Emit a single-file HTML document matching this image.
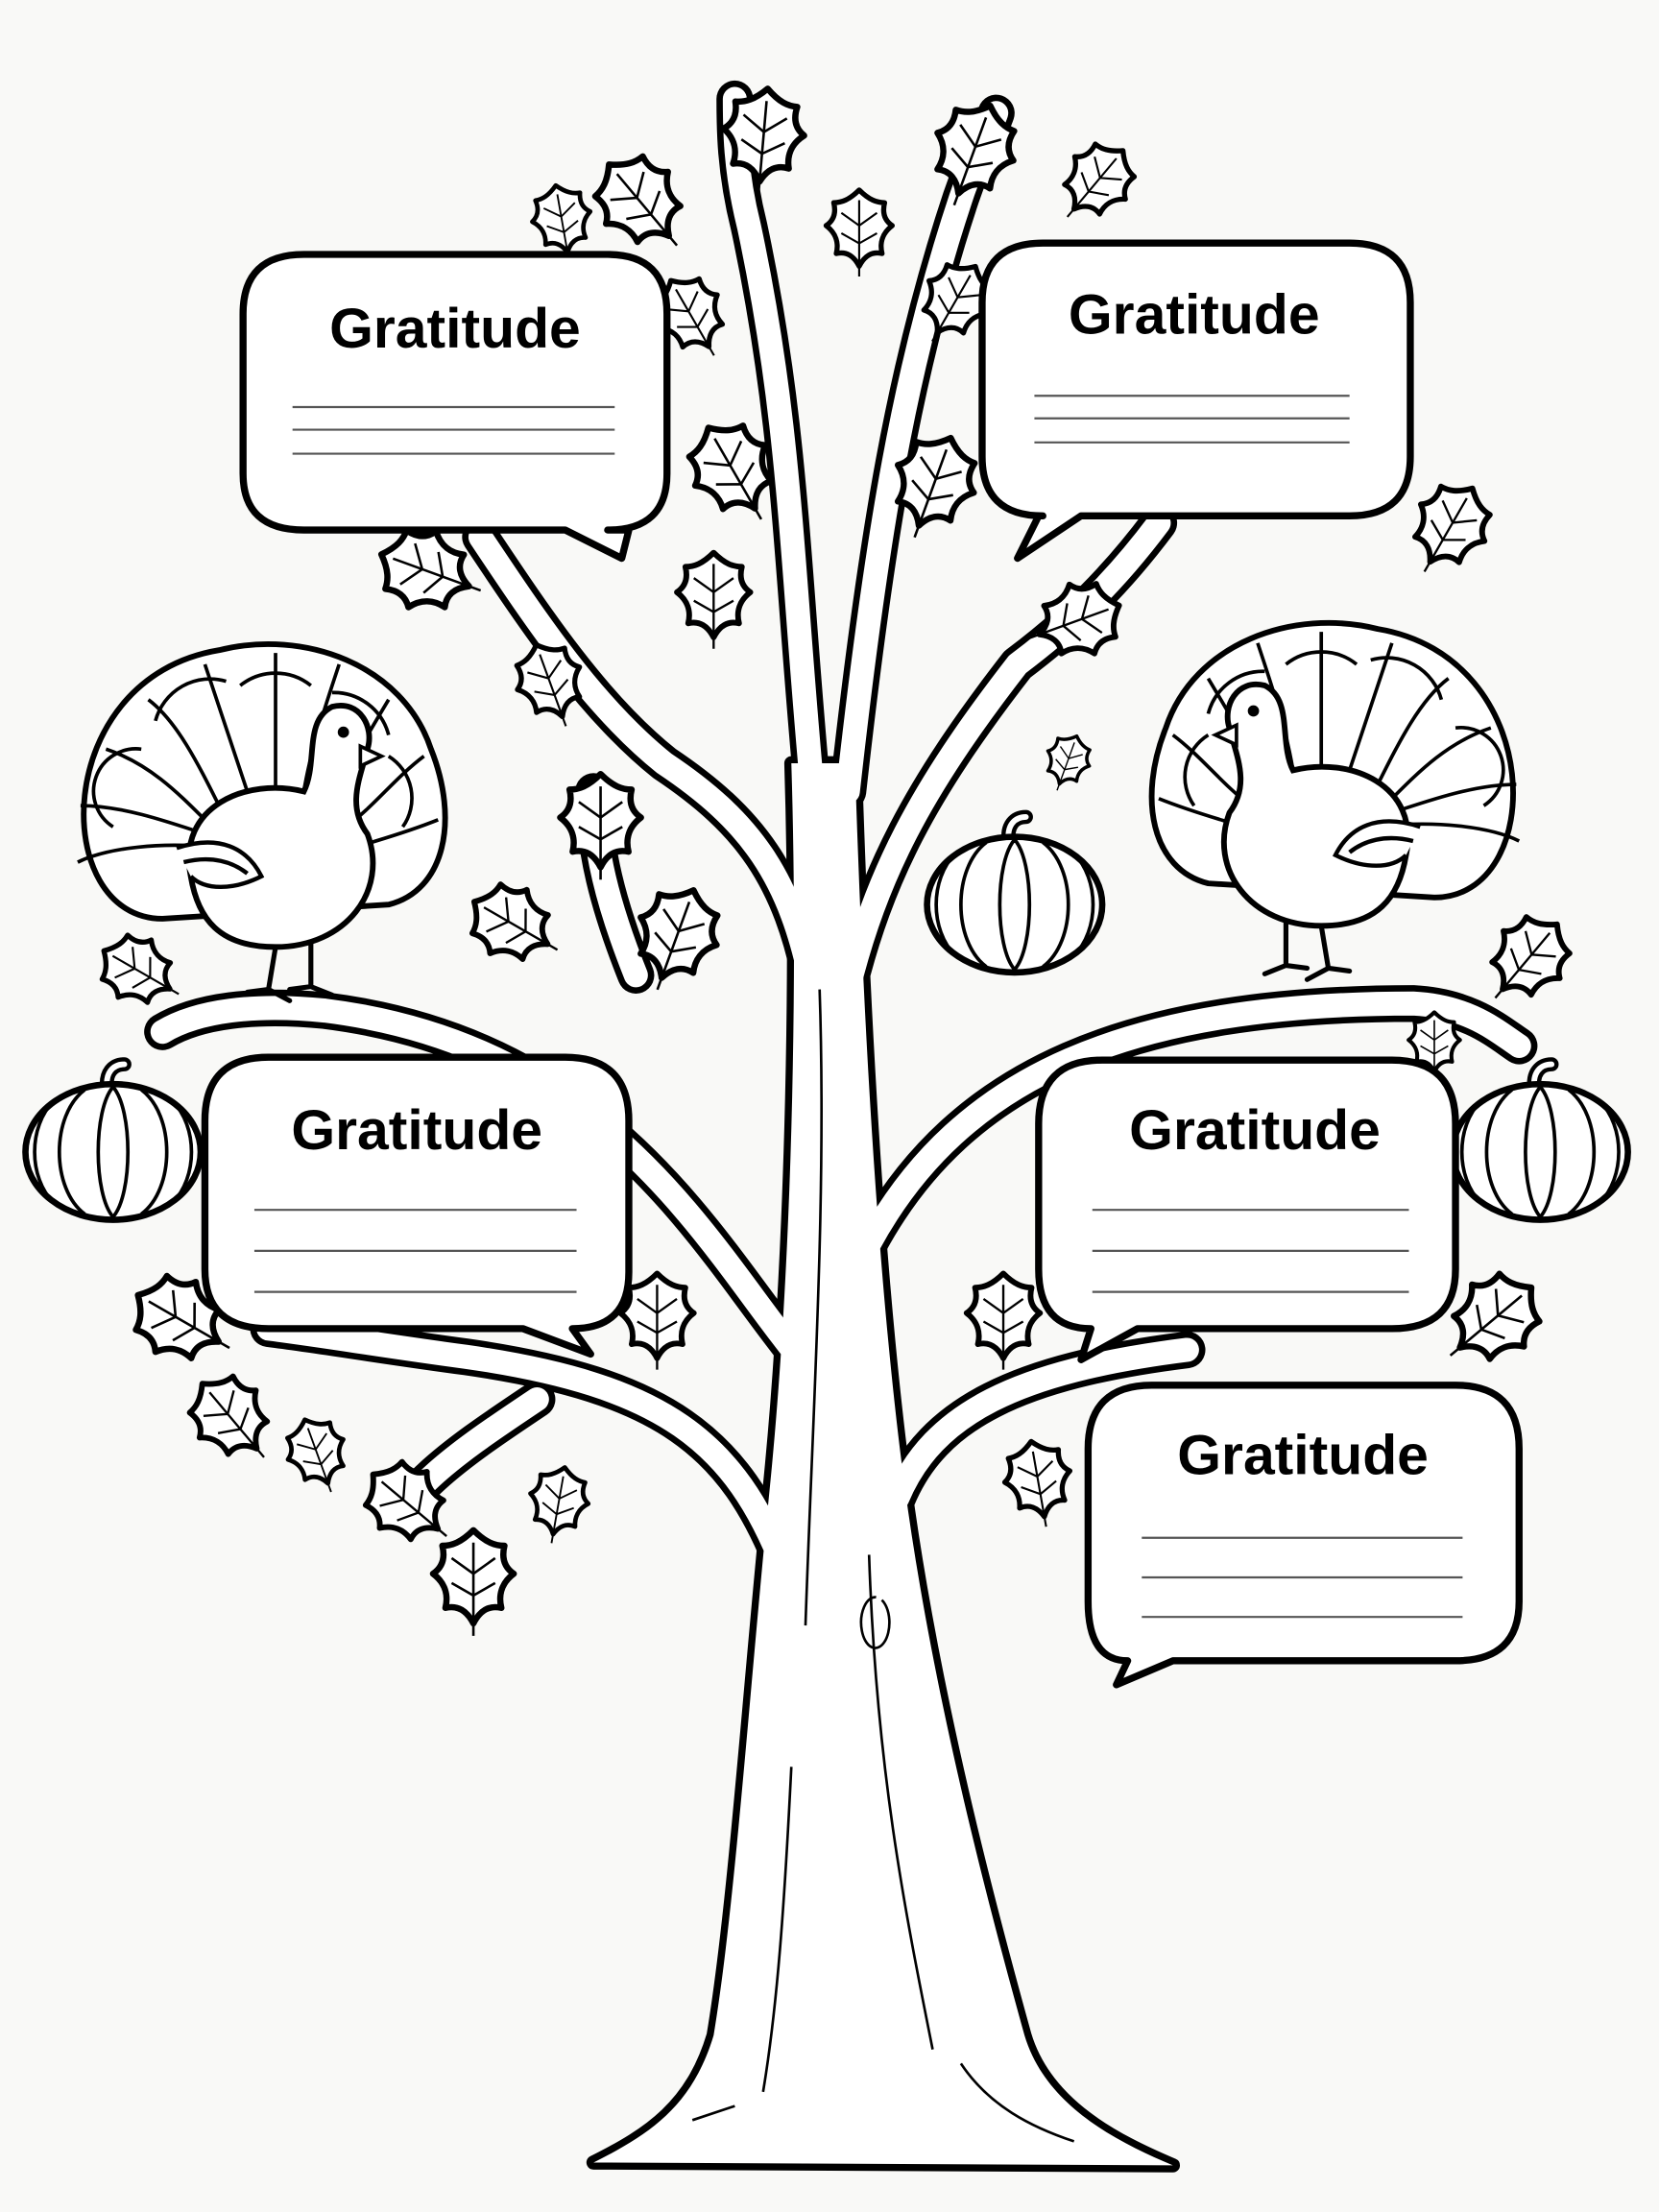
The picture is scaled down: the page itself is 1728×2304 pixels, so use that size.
<!DOCTYPE html>
<html><head><meta charset="utf-8"><style>
html,body{margin:0;padding:0;background:#f9f9f7;}
svg{display:block}
text{font-family:"Liberation Sans","DejaVu Sans",sans-serif;font-weight:bold;}
</style></head><body>
<svg width="1728" height="2304" viewBox="0 0 1174 1565" preserveAspectRatio="none" xmlns="http://www.w3.org/2000/svg">
<rect width="1174" height="1565" fill="#f9f9f7"/>
<defs>
<g id="leaf">
<path d="M0,-34 C8,-26 14,-24 20,-24 C18,-16 20,-10 26,-6 C18,0 16,8 18,16 C10,14 4,18 0,26 C-4,18 -10,14 -18,16 C-16,8 -18,0 -26,-6 C-20,-10 -18,-16 -20,-24 C-14,-24 -8,-26 0,-34 Z" fill="#fff" stroke="#000" stroke-width="4" stroke-linejoin="round"/>
<path d="M0,-26 L0,34 M0,-6 L-14,-16 M0,-6 L14,-16 M0,8 L-14,0 M0,8 L14,0" stroke="#000" stroke-width="1.6" fill="none"/>
</g>
<g id="pump">
<path d="M-4,-44 C-6,-56 0,-62 8,-62" stroke="#000" stroke-width="10" fill="none" stroke-linecap="round"/>
<path d="M-4,-44 C-6,-56 0,-62 8,-62" stroke="#fff" stroke-width="4" fill="none" stroke-linecap="round"/>
<ellipse cx="0" cy="0" rx="62" ry="48" fill="#fff" stroke="#000" stroke-width="4.5"/>
<path d="M0,-46 C-14,-30 -14,30 0,46 C14,30 14,-30 0,-46 M-20,-44 C-44,-26 -44,26 -20,44 M20,-44 C44,-26 44,26 20,44 M-42,-36 C-60,-18 -60,18 -42,36 M42,-36 C60,-18 60,18 42,36" stroke="#000" stroke-width="2.5" fill="none"/>
</g>
<g id="turkey">
<g fill="#fff" stroke="#000" stroke-width="4">
<path d="M-80,60 C-160,60 -160,-110 -40,-130 C20,-145 90,-120 110,-60 C130,-10 120,40 80,50 Z"/>
</g>
<g stroke="#000" stroke-width="2.5" fill="none">
<path d="M-140,20 C-120,10 -80,5 -40,10 M-138,-20 C-110,-20 -80,-10 -50,0 M-120,-60 C-90,-50 -70,-30 -50,-10 M-90,-95 C-70,-80 -55,-50 -40,-20 M-50,-120 C-40,-90 -30,-60 -20,-30 M0,-128 C0,-95 0,-60 0,-30 M45,-120 C35,-90 25,-60 20,-30 M80,-95 C65,-70 50,-45 40,-20 M105,-55 C85,-40 70,-20 50,-5 M115,-10 C90,0 70,5 55,10"/>
<path d="M-115,-5 a30,30 0 0 1 20,-55 M-85,-80 a40,40 0 0 1 50,-28 M-25,-105 a40,40 0 0 1 50,0 M40,-100 a40,40 0 0 1 40,30 M80,-55 a35,35 0 0 1 10,50"/>
</g>
<path d="M-60,30 C-70,-20 -20,-40 20,-30 C30,-50 20,-80 40,-90 C60,-95 70,-75 65,-60 C60,-40 50,-20 65,0 C80,40 50,80 0,80 C-40,80 -55,60 -60,30 Z" fill="#fff" stroke="#000" stroke-width="4"/>
<path d="M-70,10 C-40,0 -20,10 -10,30 C-30,40 -50,40 -60,30 M-65,20 C-45,15 -30,20 -20,28" stroke="#000" stroke-width="3" fill="#fff"/>
<circle cx="48" cy="-72" r="4" fill="#000"/>
<path d="M60,-62 L75,-55 L60,-48 Z" fill="#fff" stroke="#000" stroke-width="2.5"/>
<path d="M0,80 L-5,110 M25,78 L25,108 M-20,112 L-5,110 L10,118 M10,110 L25,108 L40,114" stroke="#000" stroke-width="3.5" fill="none" stroke-linecap="round"/>
</g>
<g id="br">
<path d="M575,700 C560,620 530,580 470,540 C420,500 380,440 340,380"/>
<path d="M600,700 C620,620 650,560 720,470 C760,440 790,410 820,370"/>
<path d="M575,560 C560,400 560,300 530,160 C520,120 520,90 520,70"/>
<path d="M600,560 C620,380 640,260 680,140 C690,110 700,95 705,80"/>
<path d="M565,960 C500,880 430,740 230,715 C180,710 140,715 115,730"/>
<path d="M615,880 C680,760 800,710 1000,710 C1040,712 1060,730 1075,740"/>
<path d="M555,1110 C520,1020 470,980 330,960 C270,952 230,945 190,940"/>
<path d="M635,1060 C660,1000 720,970 840,955"/>
<path d="M380,990 C350,1010 320,1030 300,1050"/>
<path d="M450,690 C430,640 420,600 420,560"/>
</g>
<path id="trunk" d="M560,540 C565,700 560,900 545,1050 C530,1200 520,1350 505,1440 C490,1490 460,1510 420,1530 L830,1532 C790,1515 740,1490 725,1440 C700,1350 660,1200 640,1050 C620,900 610,700 605,540 Z"/>
</defs>

<g fill="none" stroke-linecap="round" stroke-linejoin="round">
<use href="#br" stroke="#000" stroke-width="26"/>
<use href="#trunk" fill="#000" stroke="#000" stroke-width="10"/>
<use href="#br" stroke="#fff" stroke-width="17"/>
<use href="#trunk" fill="#fff" stroke="none"/>
</g>
<path d="M580,700 C585,850 575,1000 570,1150 M615,1100 C620,1250 640,1350 660,1450 M560,1250 C555,1350 550,1420 540,1480 M680,1460 C700,1490 730,1505 760,1515 M490,1500 L520,1490 M620,1130 a10,18 0 1 0 4,2" stroke="#000" stroke-width="1.8" fill="none"/>

<!-- leaves -->
<g>
<use href="#leaf" transform="translate(540,100) rotate(5) scale(1.1)"/>
<use href="#leaf" transform="translate(688,110) rotate(20) scale(1.1)"/>
<use href="#leaf" transform="translate(775,130) rotate(40) scale(0.9)"/>
<use href="#leaf" transform="translate(455,145) rotate(-40) scale(1.1)"/>
<use href="#leaf" transform="translate(398,158) rotate(-10) scale(0.8)"/>
<use href="#leaf" transform="translate(608,165) rotate(0) scale(0.9)"/>
<use href="#leaf" transform="translate(490,225) rotate(-30) scale(0.9)"/>
<use href="#leaf" transform="translate(675,215) rotate(30) scale(0.9)"/>
<use href="#leaf" transform="translate(520,335) rotate(-30) scale(1.1)"/>
<use href="#leaf" transform="translate(660,345) rotate(20) scale(1.1)"/>
<use href="#leaf" transform="translate(1025,375) rotate(30) scale(1)"/>
<use href="#leaf" transform="translate(305,405) rotate(-70) scale(1.1)"/>
<use href="#leaf" transform="translate(505,425) rotate(0) scale(1)"/>
<use href="#leaf" transform="translate(760,440) rotate(70) scale(1)"/>
<use href="#leaf" transform="translate(390,485) rotate(-20) scale(0.9)"/>
<use href="#leaf" transform="translate(425,585) rotate(0) scale(1.1)"/>
<use href="#leaf" transform="translate(365,655) rotate(-60) scale(1)"/>
<use href="#leaf" transform="translate(478,665) rotate(20) scale(1.1)"/>
<use href="#leaf" transform="translate(755,540) rotate(20) scale(0.6)"/>
<use href="#leaf" transform="translate(100,688) rotate(-60) scale(0.9)"/>
<use href="#leaf" transform="translate(1080,680) rotate(40) scale(1)"/>
<use href="#leaf" transform="translate(1015,740) rotate(0) scale(0.7)"/>
<use href="#leaf" transform="translate(130,935) rotate(-60) scale(1.1)"/>
<use href="#leaf" transform="translate(465,935) rotate(0) scale(1)"/>
<use href="#leaf" transform="translate(710,935) rotate(0) scale(1)"/>
<use href="#leaf" transform="translate(1055,935) rotate(50) scale(1.1)"/>
<use href="#leaf" transform="translate(165,1005) rotate(-40) scale(1)"/>
<use href="#leaf" transform="translate(225,1030) rotate(-20) scale(0.8)"/>
<use href="#leaf" transform="translate(290,1065) rotate(-50) scale(1)"/>
<use href="#leaf" transform="translate(395,1065) rotate(10) scale(0.8)"/>
<use href="#leaf" transform="translate(335,1120) rotate(0) scale(1.1)"/>
<use href="#leaf" transform="translate(735,1050) rotate(-10) scale(0.9)"/>
</g>

<use href="#pump" transform="translate(80,815)"/>
<use href="#pump" transform="translate(1090,815)"/>
<use href="#pump" transform="translate(718,640)"/>

<use href="#turkey" transform="translate(195,590)"/>
<use href="#turkey" transform="translate(935,575) scale(-1,1)"/>

<g fill="#fff" stroke="#000" stroke-width="5" stroke-linejoin="round">
<path d="M215,180 H430 Q472,180 472,222 V335 Q472,375 430,375 H445 L440,395 L400,375 H215 Q172,375 172,335 V222 Q172,180 215,180 Z" />
<path d="M738,172 H955 Q998,172 998,214 V323 Q998,365 955,365 H765 L720,395 L735,365 H738 Q695,365 695,323 V214 Q695,172 738,172 Z"/>
<path d="M190,748 H400 Q445,748 445,793 V900 Q445,940 405,940 L418,958 L370,940 H190 Q145,940 145,898 V793 Q145,748 190,748 Z"/>
<path d="M780,750 H985 Q1030,750 1030,795 V898 Q1030,940 985,940 H805 L765,962 L772,940 Q735,940 735,898 V795 Q735,750 780,750 Z"/>
<path d="M815,980 H1030 Q1075,980 1075,1025 V1133 Q1075,1175 1030,1175 H830 L790,1192 L798,1175 Q770,1175 770,1133 V1025 Q770,980 815,980 Z"/>
</g>
<g font-size="40" text-anchor="middle" fill="#000">
<text x="322" y="246">Gratitude</text>
<text x="845" y="236">Gratitude</text>
<text x="295" y="813">Gratitude</text>
<text x="888" y="813">Gratitude</text>
<text x="922" y="1043">Gratitude</text>
</g>
<g stroke="#555" stroke-width="1.5">
<path d="M207,288 H435 M207,304 H435 M207,321 H435"/>
<path d="M732,280 H955 M732,296 H955 M732,313 H955"/>
<path d="M180,856 H408 M180,885 H408 M180,914 H408"/>
<path d="M773,856 H997 M773,885 H997 M773,914 H997"/>
<path d="M808,1088 H1035 M808,1116 H1035 M808,1144 H1035"/>
</g>
</svg>
</body></html>
